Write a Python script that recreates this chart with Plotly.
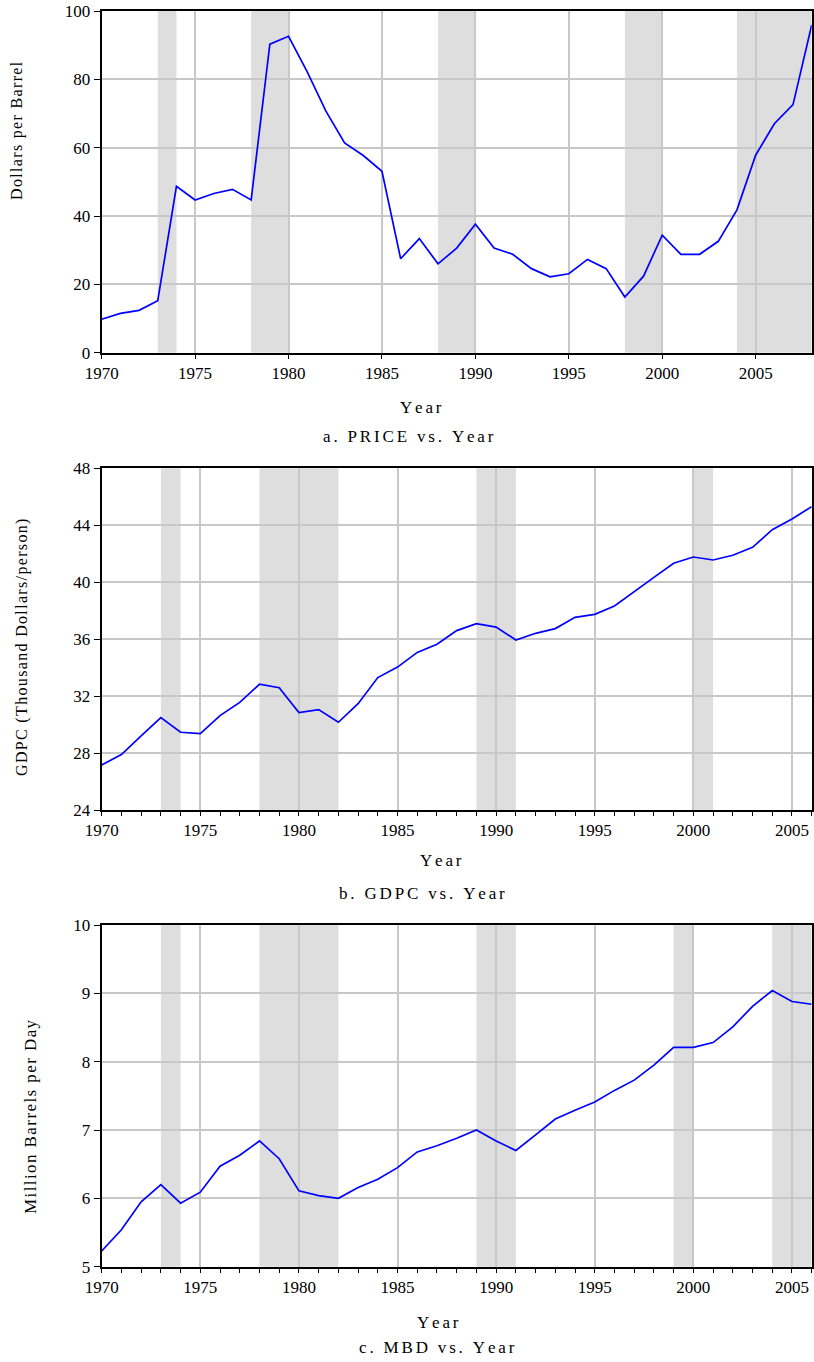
import plotly.graph_objects as go

# ---- data ----
years_price = list(range(1970, 2009))
price = [9.8, 11.5, 12.4, 15.2, 48.7, 44.7, 46.6, 47.8, 44.7, 90.3,
         92.6, 82.2, 70.7, 61.4, 57.7, 53.1, 27.5, 33.4, 26.0, 30.6,
         37.6, 30.6, 28.8, 24.6, 22.2, 23.1, 27.3, 24.6, 16.3, 22.4,
         34.4, 28.8, 28.8, 32.6, 41.8, 57.8, 67.0, 72.6, 95.9]

years_gdpc = list(range(1970, 2007))
gdpc = [27.16, 27.89, 29.2, 30.49, 29.46, 29.36, 30.63, 31.56, 32.83, 32.59,
        30.84, 31.05, 30.16, 31.47, 33.30, 34.04, 35.07, 35.64, 36.60, 37.09,
        36.85, 35.94, 36.41, 36.74, 37.53, 37.74, 38.33, 39.36, 40.34, 41.33,
        41.77, 41.56, 41.89, 42.45, 43.69, 44.44, 45.31]

years_mbd = list(range(1970, 2007))
mbd = [5.23, 5.54, 5.95, 6.20, 5.93, 6.09, 6.47, 6.63, 6.84, 6.58,
       6.11, 6.04, 6.00, 6.16, 6.28, 6.45, 6.68, 6.77, 6.88, 7.00,
       6.84, 6.70, 6.93, 7.16, 7.29, 7.41, 7.58, 7.73, 7.95, 8.21,
       8.21, 8.28, 8.51, 8.81, 9.04, 8.88, 8.84]

shade_price = [(1973, 1974), (1978, 1980), (1988, 1990), (1998, 2000), (2004, 2008)]
shade_gdpc = [(1973, 1974), (1978, 1982), (1989, 1991), (2000, 2001)]
shade_mbd = [(1973, 1974), (1978, 1982), (1989, 1991), (1999, 2000), (2004, 2006)]

year_ticks = [1970, 1975, 1980, 1985, 1990, 1995, 2000, 2005]
price_ticks = [0, 20, 40, 60, 80, 100]
gdpc_ticks = [24, 28, 32, 36, 40, 44, 48]
mbd_ticks = [5, 6, 7, 8, 9, 10]

# ---- figure geometry (pixels) ----
W, H = 814, 1362
SERIF = "Liberation Serif"
HAIR = "\u200a"
SIXTH = "\u2006"


def px_x(p):
    return p / W


def px_y(p):
    return 1 - p / H


def spaced(s, gap):
    return gap.join(s)


panels = [
    dict(x=years_price, y=price, shade=shade_price, xr=[1970, 2008], yr=[0, 100],
         yt=price_ticks, top=11, bot=352.7, minor=False,
         ytitle="Dollars per Barrel", ytitle_x=17, ytitle_y=131, ytitle_size=16,
         xtitle_pos=(421, 407), cap="a. PRICE vs. Year", cap_pos=(409, 436)),
    dict(x=years_gdpc, y=gdpc, shade=shade_gdpc, xr=[1970, 2006], yr=[24, 48],
         yt=gdpc_ticks, top=468.3, bot=810, minor=True,
         ytitle="GDPC (Thousand Dollars/person)", ytitle_x=22, ytitle_y=648, ytitle_size=16,
         xtitle_pos=(441, 860), cap="b. GDPC vs. Year", cap_pos=(422, 893)),
    dict(x=years_mbd, y=mbd, shade=shade_mbd, xr=[1970, 2006], yr=[5, 10],
         yt=mbd_ticks, top=925, bot=1266.7, minor=True,
         ytitle="Million Barrels per Day", ytitle_x=30, ytitle_y=1117, ytitle_size=17,
         xtitle_pos=(438, 1322), cap="c. MBD vs. Year", cap_pos=(437, 1347)),
]

fig = go.Figure()
layout = dict(width=W, height=H,
              margin=dict(l=0, r=0, t=0, b=0, pad=0, autoexpand=False),
              paper_bgcolor="white", plot_bgcolor="white", showlegend=False,
              font=dict(family=SERIF, size=17, color="black"))
shapes = []
annotations = []

for i, p in enumerate(panels, start=1):
    sfx = "" if i == 1 else str(i)
    xa, ya = "x" + sfx, "y" + sfx
    fig.add_trace(go.Scatter(x=p["x"], y=p["y"], mode="lines",
                             line=dict(color="#0000ff", width=1.7),
                             xaxis=xa, yaxis=ya, hoverinfo="skip"))
    xaxis = dict(domain=[px_x(101.7), px_x(811.7)], range=p["xr"], anchor=ya,
                 tickvals=year_ticks, showgrid=True, gridcolor="#c8c8c8", gridwidth=1.5,
                 showline=True, linecolor="black", linewidth=2, mirror=True,
                 ticks="outside", ticklen=4, tickwidth=1, tickcolor="black",
                 tickfont=dict(family=SERIF, size=17, color="black"),
                 zeroline=False, fixedrange=True, automargin=False)
    if p["minor"]:
        xaxis["minor"] = dict(dtick=1, tick0=1970, ticks="outside", ticklen=4,
                              tickwidth=1, tickcolor="black", showgrid=False)
    yaxis = dict(domain=[px_y(p["bot"]), px_y(p["top"])], range=p["yr"], anchor=xa,
                 tickvals=p["yt"], showgrid=True, gridcolor="#c8c8c8", gridwidth=1.5,
                 showline=True, linecolor="black", linewidth=2, mirror=True,
                 ticks="outside", ticklen=6, tickwidth=1, tickcolor="black",
                 tickfont=dict(family=SERIF, size=17, color="black"),
                 zeroline=False, fixedrange=True, automargin=False)
    layout["xaxis" + sfx] = xaxis
    layout["yaxis" + sfx] = yaxis

    for (a, b) in p["shade"]:
        shapes.append(dict(type="rect", xref=xa, yref=ya + " domain",
                           x0=a, x1=b, y0=0, y1=1, fillcolor="#dedede",
                           line=dict(width=0), layer="below"))

    annotations.append(dict(text=spaced(p["ytitle"], HAIR), textangle=-90,
                            x=px_x(p["ytitle_x"]), y=px_y(p["ytitle_y"]),
                            xref="paper", yref="paper", showarrow=False,
                            xanchor="center", yanchor="middle",
                            font=dict(family=SERIF, size=p["ytitle_size"], color="black")))
    annotations.append(dict(text=spaced("Year", SIXTH), x=px_x(p["xtitle_pos"][0]),
                            y=px_y(p["xtitle_pos"][1]), xref="paper", yref="paper",
                            showarrow=False, xanchor="center", yanchor="middle",
                            font=dict(family=SERIF, size=17, color="black")))
    annotations.append(dict(text=spaced(p["cap"], SIXTH), x=px_x(p["cap_pos"][0]),
                            y=px_y(p["cap_pos"][1]), xref="paper", yref="paper",
                            showarrow=False, xanchor="center", yanchor="middle",
                            font=dict(family=SERIF, size=17, color="black")))

layout["shapes"] = shapes
layout["annotations"] = annotations
fig.update_layout(**layout)
fig.write_html("out.html")
